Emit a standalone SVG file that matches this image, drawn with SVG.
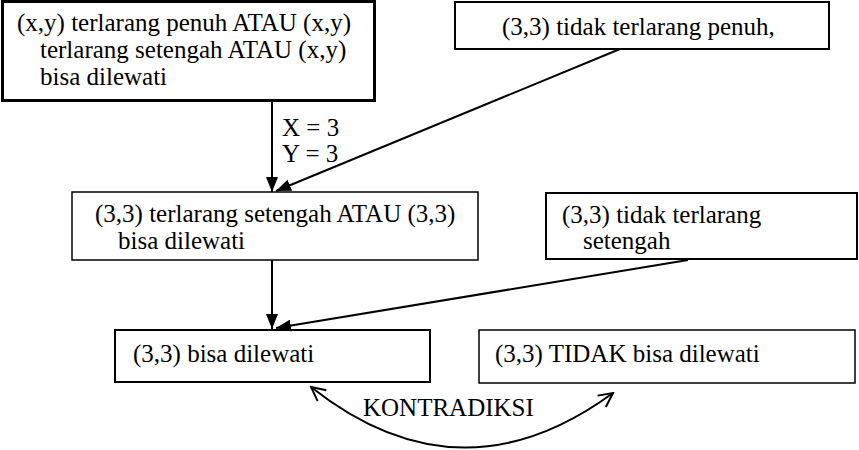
<svg xmlns="http://www.w3.org/2000/svg" width="859" height="450" viewBox="0 0 859 450">
<style>
text{font-family:'Liberation Serif','Times New Roman',serif;font-size:25px;fill:#000}
.b{fill:#fff;stroke:#000;stroke-width:2}
.c{fill:none;stroke:#000;stroke-width:2}
</style>
<defs>
<marker id="ah" markerUnits="userSpaceOnUse" markerWidth="16" markerHeight="12" refX="15" refY="6" orient="auto">
<path d="M0,0 L15,6 L0,12 Z" fill="#000"/>
</marker>
<marker id="oa" markerUnits="userSpaceOnUse" markerWidth="18" markerHeight="16" refX="16" refY="8" orient="auto">
<path d="M2,1 L16,8 L2,15" fill="none" stroke="#000" stroke-width="2"/>
</marker>
<marker id="oas" markerUnits="userSpaceOnUse" markerWidth="18" markerHeight="16" refX="16" refY="8" orient="auto-start-reverse">
<path d="M2,1 L16,8 L2,15" fill="none" stroke="#000" stroke-width="2"/>
</marker>
</defs>
<rect width="859" height="450" fill="#fff"/>
<g font-family="Liberation Serif, Times New Roman, serif">
<g id="n1">
<rect class="b" x="2.5" y="1.5" width="372" height="99" style="stroke-width:3"/>
<text x="17" y="31">(x,y) terlarang penuh ATAU (x,y)</text>
<text x="40" y="58">terlarang setengah ATAU (x,y)</text>
<text x="40" y="85">bisa dilewati</text>
</g>
<g id="n2">
<rect class="b" x="455" y="2" width="374" height="47"/>
<text x="502" y="35">(3,3) tidak terlarang penuh,</text>
</g>
<g id="n3">
<rect class="b" x="72" y="192" width="406" height="68" style="stroke-width:1.5"/>
<text x="95" y="222">(3,3) terlarang setengah ATAU (3,3)</text>
<text x="118" y="249">bisa dilewati</text>
</g>
<g id="n4">
<rect class="b" x="546" y="193" width="311" height="66"/>
<text x="562" y="223">(3,3) tidak terlarang</text>
<text x="583" y="249">setengah</text>
</g>
<g id="n5">
<rect class="b" x="115" y="330" width="315" height="52"/>
<text x="133" y="362">(3,3) bisa dilewati</text>
</g>
<g id="n6">
<rect class="b" x="479" y="330" width="376" height="53" style="stroke-width:1.5"/>
<text x="495" y="362">(3,3) TIDAK bisa dilewati</text>
</g>
<g id="connectors">
<line class="c" x1="272" y1="101" x2="272" y2="192" marker-end="url(#ah)"/>
<line class="c" x1="620" y1="49" x2="276" y2="191" marker-end="url(#ah)"/>
<line class="c" x1="272" y1="260" x2="272" y2="329" marker-end="url(#ah)"/>
<line class="c" x1="688" y1="260" x2="276" y2="328" marker-end="url(#ah)"/>
<path class="c" d="M311,387 Q460,505 613,393" marker-start="url(#oas)" marker-end="url(#oa)"/>
<text x="282" y="136">X = 3</text>
<text x="282" y="162">Y = 3</text>
<text x="363" y="416">KONTRADIKSI</text>
</g>
</g>
</svg>
